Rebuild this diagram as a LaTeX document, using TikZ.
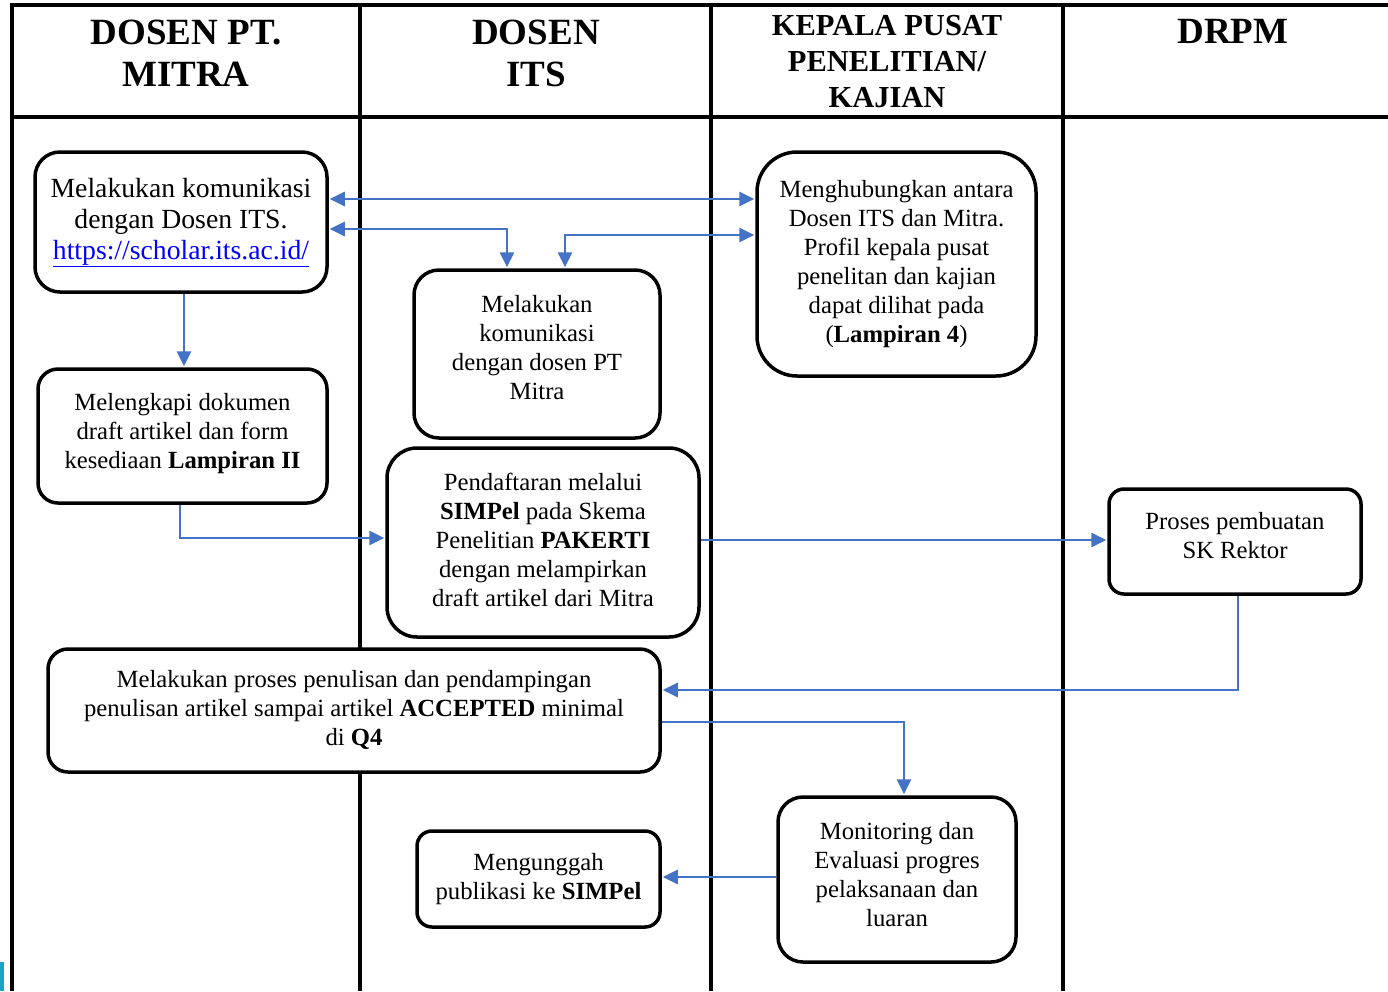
\documentclass[tikz,border=0pt]{standalone}
\usepackage{fontspec}
\setmainfont{Liberation Serif}
\usepackage{graphicx}
\usetikzlibrary{arrows.meta}
\definecolor{arrblue}{HTML}{4472C4}
\definecolor{linkblue}{HTML}{0000FF}
\definecolor{artcyan}{HTML}{1AA3C8}
\newcommand{\stk}[2][0pt]{\raisebox{0pt}[\height][\dimexpr\depth+#1\relax]{\begin{tabular}{@{}c@{}}#2\end{tabular}}}
\begin{document}
\begin{tikzpicture}[x=1pt,y=-1pt,
  grid/.style={line width=3.5pt,black},
  box/.style={draw=black,fill=white,line width=3.5pt,inner sep=0pt,align=center,
    font=\fontsize{24.7}{29}\selectfont},
  hdr/.style={inner sep=0pt,align=center,font=\bfseries\fontsize{37}{42}\selectfont},
  arr/.style={draw=arrblue,line width=2.8pt,-{Triangle[length=15pt,width=14pt]},shorten >=1pt},
  darr/.style={draw=arrblue,line width=2.8pt,{Triangle[length=15pt,width=14pt]}-{Triangle[length=15pt,width=14pt]},shorten >=1pt,shorten <=1pt},
]
\useasboundingbox (0,0) rectangle (1388,991);
\fill[white] (0,0) rectangle (1388,991);
\fill[artcyan] (0,962) rectangle (4,991);

% table grid
\draw[grid,line join=miter] (1388,5) -- (12,5) -- (12,991);
\draw[grid] (12,117) -- (1388,117);
\draw[grid] (360,5) -- (360,991);
\draw[grid] (711,5) -- (711,991);
\draw[grid] (1063,5) -- (1063,991);

% headers
\node[hdr] (h1) at (186,57) {\stk{DOSEN PT.\\MITRA}};
\node[hdr] (h2) at (536,57) {\stk{DOSEN\\ITS}};
\node[hdr,font=\bfseries\fontsize{30.5}{36}\selectfont] (h3) at (887,64) {\stk{KEPALA PUSAT\\PENELITIAN/\\KAJIAN}};
\node[hdr] (h4) at (1233,35) {\stk{DRPM}};

% boxes
\node[box,minimum width=292pt,minimum height=140pt,rounded corners=25pt,
  font=\fontsize{27.7}{31}\selectfont] (b1) at (181,222)
  {\stk{Melakukan komunikasi\\dengan Dosen ITS.\\{\color{linkblue}\underline{https://scholar.its.ac.id/}}}};
\node[box,minimum width=289pt,minimum height=134pt,rounded corners=20pt] (b2) at (182.5,436)
  {\stk[4pt]{Melengkapi dokumen\\draft artikel dan form\\kesediaan \textbf{Lampiran II}}};
\node[box,minimum width=246pt,minimum height=168pt,rounded corners=25pt] (b3) at (537,354)
  {\stk[8pt]{Melakukan\\komunikasi\\dengan dosen PT\\Mitra}};
\node[box,minimum width=279pt,minimum height=224pt,rounded corners=40pt] (b4) at (896.5,264)
  {\stk{Menghubungkan antara\\Dosen ITS dan Mitra.\\Profil kepala pusat\\penelitan dan kajian\\dapat dilihat pada\\(\textbf{Lampiran 4})}};
\node[box,minimum width=312pt,minimum height=189pt,rounded corners=30pt] (b5) at (543,542.5)
  {\stk{Pendaftaran melalui\\\textbf{SIMPel} pada Skema\\Penelitian \textbf{PAKERTI}\\dengan melampirkan\\draft artikel dari Mitra}};
\node[box,minimum width=252pt,minimum height=105pt,rounded corners=15pt] (b6) at (1235,541.5)
  {\stk[6pt]{Proses pembuatan\\SK Rektor}};
\node[box,minimum width=612pt,minimum height=123pt,rounded corners=20pt] (b7) at (354,710.5)
  {\stk{Melakukan proses penulisan dan pendampingan\\penulisan artikel sampai artikel \textbf{ACCEPTED} minimal\\di \textbf{Q4}}};
\node[box,minimum width=243pt,minimum height=96pt,rounded corners=15pt] (b8) at (538.5,879)
  {\stk{Mengunggah\\publikasi ke \textbf{SIMPel}}};
\node[box,minimum width=238pt,minimum height=165pt,rounded corners=25pt] (b9) at (897,879.5)
  {\stk[5pt]{Monitoring dan\\Evaluasi progres\\pelaksanaan dan\\luaran}};

% connectors
\coordinate (p1) at ([yshift=23pt]b1.east);
\draw[darr] (p1) -- (p1 -| b4.west);
\coordinate (p2) at ([yshift=-7pt]b1.east);
\coordinate (q2) at ([xshift=-30pt]b3.north);
\draw[darr] (p2) -| (q2);
\coordinate (p3) at ([yshift=29pt]b4.west);
\coordinate (q3) at ([xshift=28pt]b3.north);
\draw[darr] (p3) -| (q3);
\coordinate (q4) at ([xshift=3pt]b1.south);
\draw[arr] (q4) -- (q4 |- b2.north);
\coordinate (q5) at ([xshift=-2.5pt]b2.south);
\coordinate (p5) at ([yshift=4.5pt]b5.west);
\draw[arr] (q5) |- (p5);
\coordinate (p6) at ([yshift=2.5pt]b5.east);
\draw[arr] (p6) -- (p6 -| b6.west);
\coordinate (q7) at ([xshift=3pt]b6.south);
\coordinate (p7) at ([yshift=20.5pt]b7.east);
\draw[arr] (q7) |- (p7);
\coordinate (p8) at ([yshift=-11.5pt]b7.east);
\coordinate (q8) at ([xshift=7pt]b9.north);
\draw[arr] (p8) -| (q8);
\coordinate (p9) at ([yshift=2.5pt]b9.west);
\draw[arr] (p9) -- (p9 -| b8.east);
\end{tikzpicture}
\end{document}
